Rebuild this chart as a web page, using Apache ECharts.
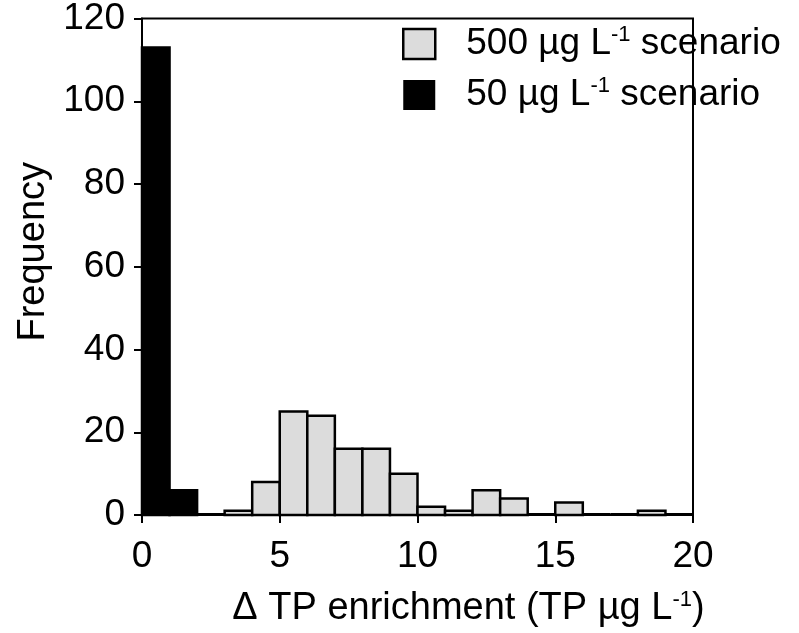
<!DOCTYPE html>
<html>
<head>
<meta charset="utf-8">
<script src="https://cdn.jsdelivr.net/npm/echarts@6/dist/echarts.min.js"></script>
<style>html,body{margin:0;padding:0;background:#fff}#c{width:799px;height:633px}</style>
</head>
<body>
<div id="c"></div>
<script>
// bin edges (µg L-1)
const binStart = [0,1,2,3,4,5,6,7,8,9,10,11,12,13,14,15,16,17,18,19];
const binEnd   = [1,2,3,4,5,6,7,8,9,10,11,12,13,14,15,16,17,18,19,20];
// frequencies
const freq500 = [0,0,0,1,8,25,24,16,16,10,2,1,6,4,0,3,0,0,1,0];
const freq50  = [113,6,0,0,0,0,0,0,0,0,0,0,0,0,0,0,0,0,0,0];
const seriesNames = ['500 µg L-1 scenario', '50 µg L-1 scenario'];
const xTicks = [0,5,10,15,20];
const yTicks = [0,20,40,60,80,100,120];

const FONT = 'Liberation Sans, Arial, sans-serif';

function toData(vals){ return vals.map((v,i)=>[binStart[i], binEnd[i], v]); }

function makeRenderItem(drawZero){
  return function(params, api){
    const x0 = api.value(0), x1 = api.value(1), y = api.value(2);
    const pTop = api.coord([x0, y]);
    const pBot = api.coord([x1, 0]);
    if (y === 0) {
      if (!drawZero) return null;
      return {type: 'line', shape: {x1: pTop[0], y1: pBot[1]-1, x2: pBot[0], y2: pBot[1]-1},
        style: {stroke: '#000', lineWidth: 2}};
    }
    return {
      type: 'rect',
      shape: {x: pTop[0], y: pTop[1], width: pBot[0]-pTop[0], height: pBot[1]-pTop[1]},
      style: api.style()
    };
  };
}

const LEG = 37;
const supRich = {
  n: {fontSize: LEG, fontFamily: FONT, color: '#000', lineHeight: 40},
  sup: {fontSize: 22, fontFamily: FONT, color: '#000', verticalAlign: 'top', lineHeight: 22}
};

const chart = echarts.init(document.getElementById('c'), null, {renderer: 'canvas'});
chart.setOption({
  animation: false,
  backgroundColor: '#fff',
  grid: {left: 142, right: 106, top: 18, bottom: 115, show: true, borderColor: '#000', borderWidth: 2, backgroundColor: 'transparent'},
  legend: {
    orient: 'vertical', left: 402, top: 24, padding: 0, itemWidth: 32, itemHeight: 30, itemGap: 11,
    icon: 'rect',
    data: [
      {name: seriesNames[0], itemStyle: {color: '#dcdcdc', borderColor: '#000', borderWidth: 2.5}},
      {name: seriesNames[1], itemStyle: {color: '#000', borderColor: '#000', borderWidth: 0}}
    ],
    formatter: function(name){
      const parts = name.split('L-1');
      return '{n|' + parts[0] + 'L}{sup|-1}{n|' + parts[1] + '}';
    },
    textStyle: {fontSize: LEG, fontFamily: FONT, color: '#000', lineHeight: 40, padding: [0,0,0,26], rich: supRich}
  },
  xAxis: {
    type: 'value', min: 0, max: 20, interval: 5,
    axisLine: {show: true, lineStyle: {color: '#000', width: 2}},
    axisTick: {show: true, length: 8, lineStyle: {color: '#000', width: 2}},
    axisLabel: {fontSize: 37, fontFamily: FONT, color: '#000', margin: 23,
      formatter: v => xTicks.indexOf(v) >= 0 ? String(v) : ''},
    splitLine: {show: false},
    name: '{n|Δ TP enrichment (TP µg L}{sup|-1}{n|)}',
    nameLocation: 'middle', nameGap: 74,
    nameTextStyle: {padding: [0,0,0,102], rich: {
      n: {fontSize: 38, fontFamily: FONT, color: '#000', lineHeight: 40},
      sup: {fontSize: 22, fontFamily: FONT, color: '#000', verticalAlign: 'top', lineHeight: 22}
    }}
  },
  yAxis: {
    type: 'value', min: 0, max: 120, interval: 20,
    axisLine: {show: true, lineStyle: {color: '#000', width: 2}},
    axisTick: {show: true, length: 8, lineStyle: {color: '#000', width: 2}},
    axisLabel: {fontSize: 37, fontFamily: FONT, color: '#000', margin: 17,
      formatter: v => yTicks.indexOf(v) >= 0 ? String(v) : ''},
    splitLine: {show: false},
    name: 'Frequency', nameLocation: 'middle', nameGap: 82,
    nameTextStyle: {fontSize: 38, fontFamily: FONT, color: '#000', padding: [0,0,0,30]}
  },
  series: [
    {name: seriesNames[0], type: 'custom', renderItem: makeRenderItem(true), data: toData(freq500),
      encode: {x: [0,1], y: 2},
      itemStyle: {color: '#dcdcdc', borderColor: '#000', borderWidth: 2.5}},
    {name: seriesNames[1], type: 'custom', renderItem: makeRenderItem(false), data: toData(freq50),
      encode: {x: [0,1], y: 2},
      itemStyle: {color: '#000', borderColor: '#000', borderWidth: 2.5}}
  ]
});
</script>
</body>
</html>
